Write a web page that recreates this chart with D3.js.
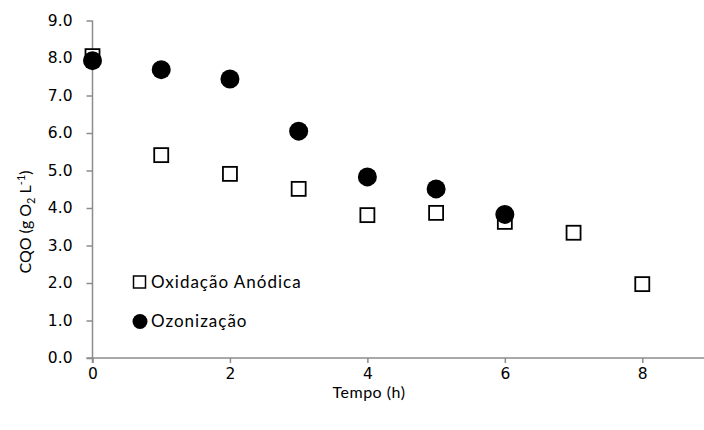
<!DOCTYPE html>
<html>
<head>
<meta charset="utf-8">
<script src="https://cdn.jsdelivr.net/npm/d3@7"></script>
<style>
  html, body { margin: 0; padding: 0; background: #fff; }
  svg text { font-family: Lato, "Open Sans", sans-serif; fill: #000; }
</style>
</head>
<body>
<svg id="chart" width="704" height="430"></svg>
<script>
// Time (h) and COD values (g O2 / L) for both treatments
const tempoAnodica = [0, 1, 2, 3, 4, 5, 6, 7, 8];
const cqoAnodica   = [8.05, 5.41, 4.91, 4.51, 3.81, 3.87, 3.63, 3.34, 1.97];
const tempoOzono   = [0, 1, 2, 3, 4, 5, 6];
const cqoOzono     = [7.93, 7.69, 7.44, 6.05, 4.83, 4.51, 3.83];
const xTicks = [0, 2, 4, 6, 8];
const yTicks = [0, 1, 2, 3, 4, 5, 6, 7, 8, 9];
const legendLabels = ["Oxidação Anódica", "Ozonização"];

const svg = d3.select("#chart");
const axisColor = "#8c8c8c";
const tickFont = "'DejaVu Sans', Verdana, sans-serif";

const x = d3.scaleLinear().domain([0, 9]).range([92.5, 711]);
const y = d3.scaleLinear().domain([0, 9]).range([358, 20.5]);

// Axes
const xAxis = svg.append("g").attr("transform", `translate(0,${y(0)})`)
  .call(d3.axisBottom(x).tickValues(xTicks).tickFormat(d3.format("d")).tickSize(5).tickPadding(5));
const yAxis = svg.append("g").attr("transform", `translate(${x(0)},0)`)
  .call(d3.axisLeft(y).tickValues(yTicks).tickFormat(d3.format(".1f")).tickSize(6).tickPadding(14));

[xAxis, yAxis].forEach(g => {
  g.select(".domain").attr("stroke", axisColor).attr("stroke-width", 1.5);
  g.selectAll(".tick line").attr("stroke", axisColor).attr("stroke-width", 1.5);
  g.selectAll(".tick text").attr("font-size", 15.5).attr("fill", "#000")
    .style("font-family", tickFont);
});
// extend x-axis baseline to meet the y tick at 0
xAxis.select(".domain").attr("d", `M${x(0) - 6},0H${x(9)}`);
yAxis.select(".domain").attr("d", `M0,${y(9)}V${y(0) + 5}`);

// Series markers
const anodica = tempoAnodica.map((t, i) => ({ t, v: cqoAnodica[i] }));
const ozono = tempoOzono.map((t, i) => ({ t, v: cqoOzono[i] }));
const sq = 14;

svg.append("g").selectAll("rect").data(anodica).join("rect")
  .attr("x", d => x(d.t) - sq / 2)
  .attr("y", d => y(d.v) - sq / 2)
  .attr("width", sq).attr("height", sq)
  .attr("fill", "#fff").attr("stroke", "#000").attr("stroke-width", 1.8);

svg.append("g").selectAll("circle").data(ozono).join("circle")
  .attr("cx", d => x(d.t))
  .attr("cy", d => y(d.v))
  .attr("r", 9.5)
  .attr("fill", "#000");

// Legend
const leg = svg.append("g");
leg.append("rect").attr("x", 133.5).attr("y", 276).attr("width", 12).attr("height", 12)
  .attr("fill", "#fff").attr("stroke", "#000").attr("stroke-width", 1.5);
leg.append("text").attr("x", 151).attr("y", 282).attr("dy", "0.35em")
  .attr("font-size", 17).attr("letter-spacing", 1).text(legendLabels[0]);
leg.append("circle").attr("cx", 140).attr("cy", 321.5).attr("r", 7.5).attr("fill", "#000");
leg.append("text").attr("x", 151).attr("y", 321.5).attr("dy", "0.35em")
  .attr("font-size", 17).attr("letter-spacing", 1).text(legendLabels[1]);

// Axis titles
svg.append("text").attr("x", 369).attr("y", 398).attr("text-anchor", "middle")
  .attr("font-size", 16).attr("letter-spacing", 0.5).text("Tempo (h)");

const yt = svg.append("text")
  .attr("transform", "translate(31,222) rotate(-90)")
  .attr("text-anchor", "middle").attr("font-size", 16);
yt.append("tspan").text("CQO (g O");
yt.append("tspan").attr("font-size", 11).attr("dy", 4).text("2");
yt.append("tspan").attr("dy", -4).text(" L");
yt.append("tspan").attr("font-size", 11).attr("dy", -6).text("-1");
yt.append("tspan").attr("dy", 6).text(")");
</script>
</body>
</html>
